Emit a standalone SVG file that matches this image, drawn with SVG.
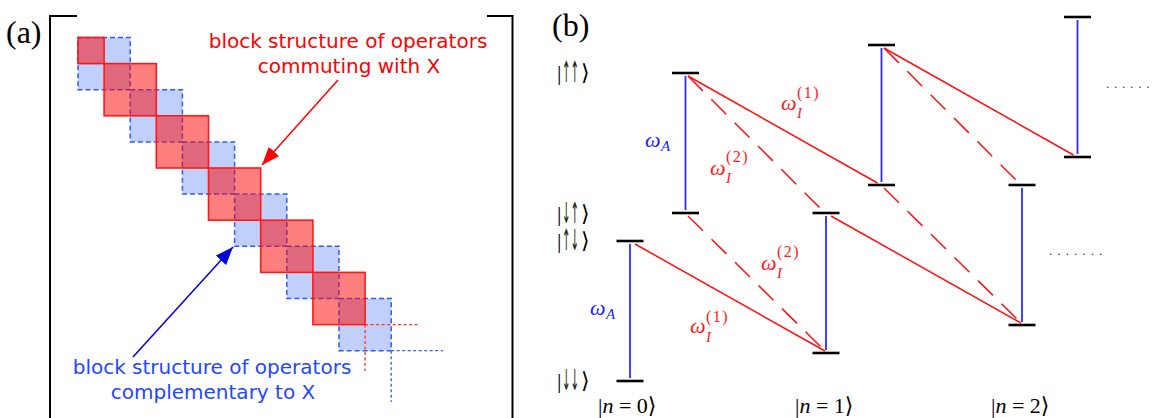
<svg xmlns="http://www.w3.org/2000/svg" width="1152" height="418" viewBox="0 0 1152 418">
<style>
.bracket{fill:none;stroke:#000;stroke-width:2}
.bblk{fill:rgb(60,110,240);fill-opacity:0.32;stroke:#2f5cff;stroke-width:1.5;stroke-dasharray:5 3}
.rblk{fill:#ff0000;fill-opacity:0.5;stroke:#ff1a1a;stroke-width:1.6}
.rext{fill:none;stroke:#ff3030;stroke-width:1.3;stroke-dasharray:3 2.5}
.bext{fill:none;stroke:#3060ff;stroke-width:1.3;stroke-dasharray:3 2.5}
.lab{font-family:"Liberation Serif","DejaVu Serif",serif;font-size:32px;fill:#000}
.note{font-family:"DejaVu Sans","Liberation Sans",sans-serif;font-size:20px;text-anchor:middle}
.lvl{stroke:#000;stroke-width:2.6}
.vib{stroke:#2b2bff;stroke-width:1.8}
.sol{stroke:#ff1010;stroke-width:1.5;fill:none}
.dsh{stroke:#ff1010;stroke-width:1.5;fill:none;stroke-dasharray:21 12}
.ket{font-family:"Liberation Serif","DejaVu Serif","DejaVu Sans",serif;font-size:22px;fill:#000}
.spin{font-family:"DejaVu Sans",sans-serif;font-size:29px;fill:#222}
.om{font-family:"Liberation Serif","DejaVu Serif",serif;font-style:italic;font-size:22px}
.sub{font-style:italic;font-size:15px}
.sup{font-style:normal;font-size:16px;letter-spacing:1.5px}
.dots{font-family:"Liberation Sans",sans-serif;font-size:12px;fill:#222}
</style>
<defs>
<marker id="ahR" markerUnits="userSpaceOnUse" markerWidth="18" markerHeight="14" refX="18" refY="7" orient="auto">
<path d="M0,0 L18,7 L0,14 z" fill="#ff0000"/>
</marker>
<marker id="ahB" markerUnits="userSpaceOnUse" markerWidth="18" markerHeight="14" refX="18" refY="7" orient="auto">
<path d="M0,0 L18,7 L0,14 z" fill="#0000dd"/>
</marker>
</defs>
<rect x="0" y="0" width="1152" height="418" fill="#fff"/>

<!-- Panel (a) -->
<g id="panel-a">
<text class="lab" x="6" y="43">(a)</text>
<polyline class="bracket" points="77,16 50,16 50,418"/>
<polyline class="bracket" points="487,16 512.5,16 512.5,418"/>
</g>

<g id="blue-blocks">
<rect class="bblk" x="78" y="37.5" width="52.2" height="52.2"/>
<rect class="bblk" x="130.2" y="89.7" width="52.2" height="52.2"/>
<rect class="bblk" x="182.4" y="141.9" width="52.2" height="52.2"/>
<rect class="bblk" x="234.6" y="194.1" width="52.2" height="52.2"/>
<rect class="bblk" x="286.8" y="246.3" width="52.2" height="52.2"/>
<rect class="bblk" x="339" y="298.5" width="52.2" height="52.2"/>
<polyline class="bext" points="391.2,350.7 443,350.7"/>
<polyline class="bext" points="391.2,350.7 391.2,402"/>
</g>

<g id="red-blocks">
<rect class="rblk" x="78" y="37.5" width="26.1" height="26.1"/>
<rect class="rblk" x="104.1" y="63.6" width="52.2" height="52.2"/>
<rect class="rblk" x="156.3" y="115.8" width="52.2" height="52.2"/>
<rect class="rblk" x="208.5" y="168" width="52.2" height="52.2"/>
<rect class="rblk" x="260.7" y="220.2" width="52.2" height="52.2"/>
<rect class="rblk" x="312.9" y="272.4" width="52.2" height="52.2"/>
<polyline class="rext" points="365.1,324.6 418,324.6"/>
<polyline class="rext" points="365.1,324.6 365.1,371"/>
</g>

<g id="note-commuting">
<text class="note" x="348" y="48" fill="#ff0000">block structure of operators</text>
<text class="note" x="349" y="73" fill="#ff0000">commuting with X</text>
</g>
<g id="note-complementary">
<text class="note" x="212" y="374" fill="#1f48ff">block structure of operators</text>
<text class="note" x="213" y="399" fill="#1f48ff">complementary to X</text>
</g>

<g id="arrows-a">
<line x1="338" y1="80" x2="262" y2="165" stroke="#ff0000" stroke-width="1.5" marker-end="url(#ahR)"/>
<line x1="133" y1="357" x2="233" y2="247" stroke="#0000dd" stroke-width="1.5" marker-end="url(#ahB)"/>
</g>

<!-- Panel (b) -->
<g id="panel-b-label">
<text class="lab" x="552" y="36">(b)</text>
</g>

<g id="ket-upup">
<text class="ket" x="557" y="80">|</text>
<text class="spin" transform="matrix(0.35,0,0,1,562,82)">↑↑</text>
<text class="ket" x="581" y="80">⟩</text>
</g>
<g id="ket-downup">
<text class="ket" x="557" y="221">|</text>
<text class="spin" transform="matrix(0.35,0,0,1,562,223)">↓↑</text>
<text class="ket" x="581" y="221">⟩</text>
</g>
<g id="ket-updown">
<text class="ket" x="557" y="248">|</text>
<text class="spin" transform="matrix(0.35,0,0,1,562,250)">↑↓</text>
<text class="ket" x="581" y="248">⟩</text>
</g>
<g id="ket-downdown">
<text class="ket" x="557" y="388">|</text>
<text class="spin" transform="matrix(0.35,0,0,1,562,390)">↓↓</text>
<text class="ket" x="581" y="388">⟩</text>
</g>
<g id="ket-n">
<text class="ket" x="598" y="413">|<tspan font-style="italic">n</tspan> = 0⟩</text>
<text class="ket" x="795" y="413">|<tspan font-style="italic">n</tspan> = 1⟩</text>
<text class="ket" x="991" y="413">|<tspan font-style="italic">n</tspan> = 2⟩</text>
</g>

<g id="connectors">
<line class="vib" x1="630" y1="244" x2="630" y2="378"/>
<line class="vib" x1="685.5" y1="76" x2="685.5" y2="210"/>
<line class="vib" x1="826" y1="216" x2="826" y2="350"/>
<line class="vib" x1="881.5" y1="48" x2="881.5" y2="182"/>
<line class="vib" x1="1022" y1="188" x2="1022" y2="322"/>
<line class="vib" x1="1077.5" y1="20" x2="1077.5" y2="154"/>
<line class="sol" x1="635" y1="244" x2="825" y2="351"/>
<line class="sol" x1="831" y1="216" x2="1021" y2="323"/>
<line class="sol" x1="688" y1="76" x2="877.5" y2="183"/>
<line class="sol" x1="884" y1="48" x2="1073.5" y2="155"/>
<line class="dsh" x1="688" y1="216" x2="825" y2="351"/>
<line class="dsh" x1="884" y1="188" x2="1021" y2="323"/>
<line class="dsh" x1="688" y1="76" x2="823" y2="211"/>
<line class="dsh" x1="884" y1="48" x2="1019" y2="183"/>
</g>

<g id="levels-n0">
<line class="lvl" x1="616.5" y1="381" x2="643.5" y2="381"/>
<line class="lvl" x1="616.5" y1="241" x2="643.5" y2="241"/>
<line class="lvl" x1="672" y1="213" x2="699" y2="213"/>
<line class="lvl" x1="672" y1="73" x2="699" y2="73"/>
</g>
<g id="levels-n1">
<line class="lvl" x1="812.5" y1="353" x2="839.5" y2="353"/>
<line class="lvl" x1="812.5" y1="213" x2="839.5" y2="213"/>
<line class="lvl" x1="868" y1="185" x2="895" y2="185"/>
<line class="lvl" x1="868" y1="45" x2="895" y2="45"/>
</g>
<g id="levels-n2">
<line class="lvl" x1="1008.5" y1="325" x2="1035.5" y2="325"/>
<line class="lvl" x1="1008.5" y1="185" x2="1035.5" y2="185"/>
<line class="lvl" x1="1064" y1="157" x2="1091" y2="157"/>
<line class="lvl" x1="1064" y1="17" x2="1091" y2="17"/>
</g>

<g id="freq-labels">
<g fill="#2020ff">
<text class="om" x="645" y="147">ω<tspan class="sub" x="661" y="151">A</tspan></text>
<text class="om" x="590" y="315">ω<tspan class="sub" x="606" y="319">A</tspan></text>
</g>
<g fill="#ff1a1a">
<text class="om" x="781" y="110">ω<tspan class="sup" x="797" y="98">(1)</tspan><tspan class="sub" x="797" y="118">I</tspan></text>
<text class="om" x="690" y="333">ω<tspan class="sup" x="706" y="322">(1)</tspan><tspan class="sub" x="706" y="342">I</tspan></text>
<text class="om" x="710" y="175">ω<tspan class="sup" x="726" y="162">(2)</tspan><tspan class="sub" x="726" y="183">I</tspan></text>
<text class="om" x="761" y="270">ω<tspan class="sup" x="777" y="257">(2)</tspan><tspan class="sub" x="777" y="278">I</tspan></text>
</g>
</g>

<g id="ellipses">
<text class="dots" x="1106" y="88" letter-spacing="4.7">......</text>
<text class="dots" x="1049" y="255" letter-spacing="5">.......</text>
</g>
</svg>
